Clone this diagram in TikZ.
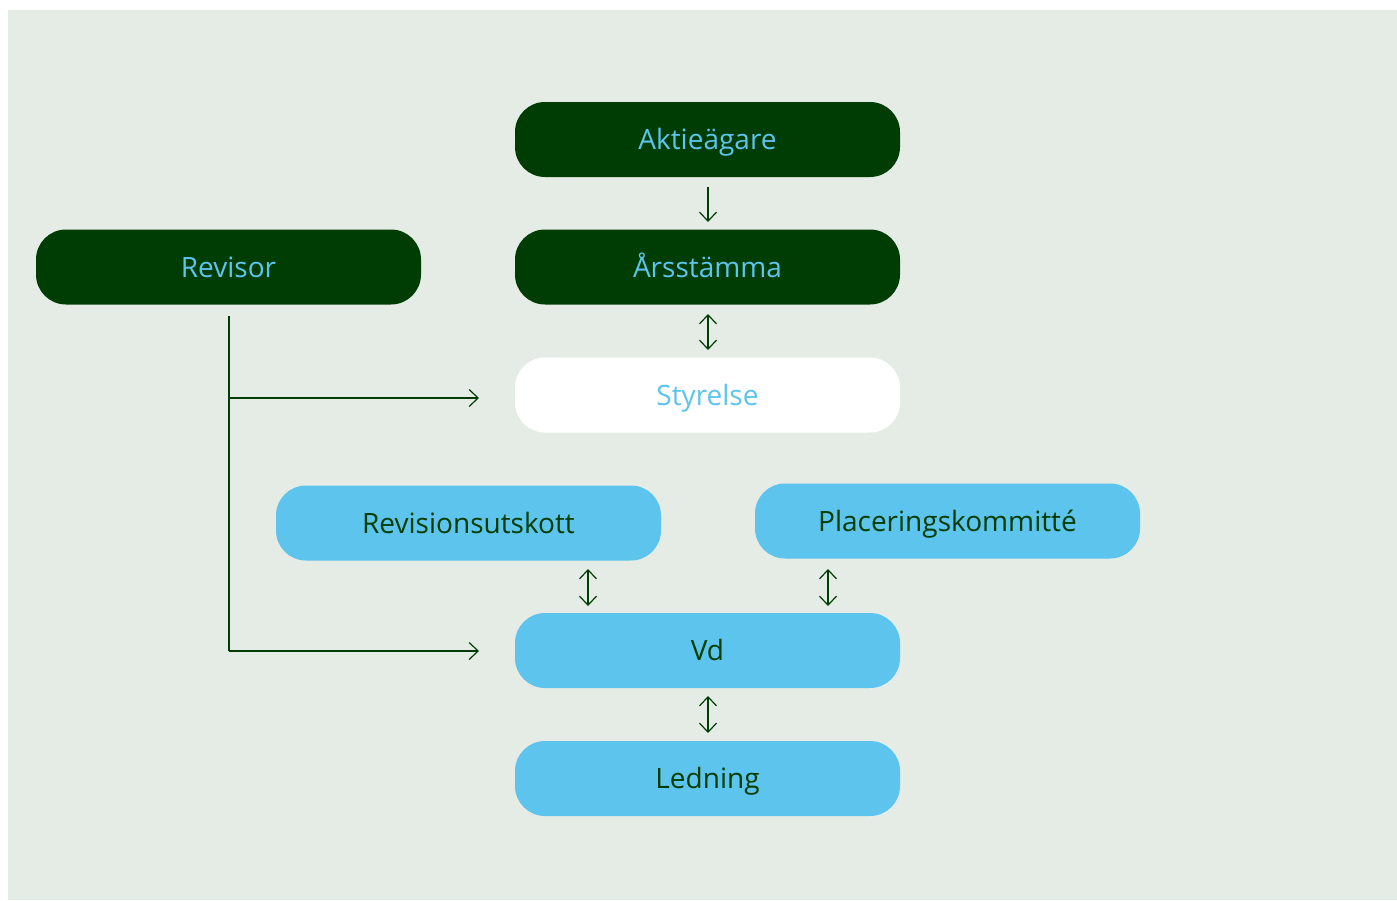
\documentclass[tikz,border=0pt]{standalone}
\usepackage{fontspec}
\setmainfont{Open Sans}
\usetikzlibrary{arrows.meta}
\definecolor{dgreen}{RGB}{0,61,5}
\definecolor{lblue}{RGB}{92,196,237}
\definecolor{bg}{RGB}{229,236,229}
\begin{document}
\begin{tikzpicture}[x=1pt,y=-1pt,
  box/.style={rounded corners=30pt,minimum width=385pt,minimum height=75pt,inner sep=0pt,text height=20pt,text depth=0pt,font=\fontsize{28}{32}\selectfont},
  darkbox/.style={box,fill=dgreen,text=lblue},
  whitebox/.style={box,fill=white,text=lblue},
  bluebox/.style={box,fill=lblue,text=dgreen},
  conn/.style={draw=dgreen,line width=1.2pt},
  >={Straight Barb[length=9pt,width=17pt,line width=1.2pt]}]
\useasboundingbox (0,0) rectangle (1397,900);
\fill[bg] (8,10) rectangle (1397,900);
\node[darkbox] (akt) at (707.5,139.5) {Aktieägare};
\node[darkbox] (ars) at (707.5,267) {Årsstämma};
\node[darkbox] (rev) at (228.5,267) {Revisor};
\node[whitebox] (sty) at (707.5,395) {Styrelse};
\node[bluebox] (ru) at (468.5,523) {Revisionsutskott};
\node[bluebox] (pk) at (947.5,521) {Placeringskommitté};
\node[bluebox] (vd) at (707.5,650.5) {Vd};
\node[bluebox] (led) at (707.5,778.5) {Ledning};
\coordinate (a1) at (708,187);
\coordinate (a2) at (708,222);
\coordinate (b1) at (708,314);
\coordinate (b2) at (708,350);
\coordinate (c1) at (588,569);
\coordinate (c2) at (588,606);
\coordinate (d1) at (828,569);
\coordinate (d2) at (828,606);
\coordinate (e1) at (708,696);
\coordinate (e2) at (708,733);
\coordinate (r0) at (229,316);
\coordinate (r1) at (479,398);
\coordinate (r2) at (479,651);
\draw[conn,->] (a1) -- (a2);
\draw[conn,<->] (b1) -- (b2);
\draw[conn,<->] (c1) -- (c2);
\draw[conn,<->] (d1) -- (d2);
\draw[conn,<->] (e1) -- (e2);
\draw[conn] (r0) -- (r0 |- r2);
\draw[conn,->] (r0 |- r1) -- (r1);
\draw[conn,->] (r0 |- r2) -- (r2);
\end{tikzpicture}
\end{document}
